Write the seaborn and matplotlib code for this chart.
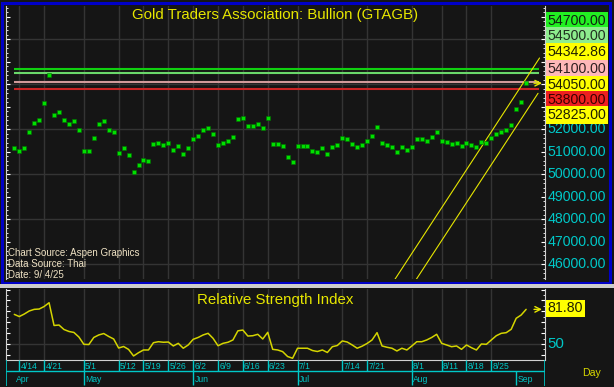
import numpy as np
import pandas as pd
import matplotlib
matplotlib.use("Agg")
import matplotlib.pyplot as plt
import seaborn as sns
from matplotlib.patches import Rectangle
from matplotlib.ticker import MultipleLocator

# ---------------- data ----------------
price = [51150, 51050, 51150, 51900, 52300, 52400, 53150, 54400, 52650, 52750,
         52400, 52250, 52350, 51950, 51050, 51050, 51600, 52250, 52350, 51950,
         51900, 50950, 51150, 50850, 50100, 50400, 50650, 50600, 51350, 51400,
         51300, 51400, 51100, 51250, 50900, 51150, 51550, 51700, 51950, 52050,
         51800, 51300, 51400, 51500, 51650, 52450, 52500, 52150, 52150, 52250,
         52050, 52500, 51350, 51350, 51250, 50750, 50550, 51250, 51250, 51250,
         51050, 51000, 51150, 50900, 51200, 51300, 51600, 51550, 51350, 51200,
         51300, 51500, 51700, 52100, 51400, 51300, 51200, 51000, 51200, 51100,
         51200, 51550, 51550, 51500, 51650, 51900, 51500, 51450, 51350, 51400,
         51250, 51400, 51300, 51200, 51450, 51400, 51600, 51800, 51900, 51950,
         52200, 52900, 53200, 54050]

rsi = [77.2, 75.2, 77.5, 80.3, 81.8, 82.1, 84.4, 87.9, 67.0, 67.4,
       63.3, 61.5, 60.6, 56.4, 49.7, 49.5, 56.0, 58.3, 59.6, 56.9,
       54.6, 46.3, 47.7, 45.0, 39.0, 42.0, 44.5, 44.5, 51.2, 52.1,
       51.6, 51.8, 48.2, 50.6, 46.1, 49.1, 54.3, 56.0, 58.3, 59.8,
       55.2, 48.4, 50.6, 51.6, 53.7, 62.1, 62.8, 57.3, 57.6, 58.9,
       54.6, 60.7, 45.1, 44.5, 43.0, 38.5, 36.9, 46.1, 46.1, 46.1,
       44.0, 43.1, 44.5, 42.2, 47.5, 48.6, 52.8, 51.8, 49.1, 46.1,
       48.0, 50.5, 53.7, 60.4, 48.2, 47.0, 46.1, 43.6, 46.1, 44.5,
       48.2, 52.1, 52.1, 53.7, 56.0, 58.9, 50.6, 49.1, 47.5, 48.2,
       45.1, 49.1, 46.6, 44.5, 50.0, 49.7, 53.7, 57.6, 59.8, 60.4,
       63.5, 73.6, 76.6, 81.8]

dates = pd.bdate_range("2025-04-11", "2025-09-03")

week_tick_dates = ["2025-04-14", "2025-04-21", "2025-05-01", "2025-05-12", "2025-05-19",
                   "2025-05-26", "2025-06-02", "2025-06-09", "2025-06-16", "2025-06-23",
                   "2025-07-01", "2025-07-14", "2025-07-21", "2025-08-01", "2025-08-11",
                   "2025-08-18", "2025-08-25"]
week_tick_labels = ["4/14", "4/21", "5/1", "5/12", "5/19", "5/26", "6/2", "6/9", "6/16",
                    "6/23", "7/1", "7/14", "7/21", "8/1", "8/11", "8/18", "8/25"]
month_tick_dates = ["2025-04-11", "2025-05-01", "2025-06-02", "2025-07-01", "2025-08-01", "2025-09-01"]
month_labels = ["Apr", "May", "Jun", "Jul", "Aug", "Sep"]

level_values = [54700, 54500, 54100, 53800]
level_colors = ["#10d010", "#6ad86a", "#d09a9a", "#c82424"]

box_labels = ["54700.00", "54500.00", "54342.86", "54100.00", "54050.00", "53800.00", "52825.00"]
box_colors = ["#22f022", "#8eec8e", "#ffff00", "#ffb8b8", "#ffff00", "#ee2020", "#ffff00"]
box_text_colors = ["#102010", "#203020", "#202000", "#302020", "#202000", "#3a0000", "#202000"]
axis_values = [52000, 51000, 50000, 49000, 48000, 47000, 46000]

channel_x = [76.5, 105.7]
channel_upper = [45300, 55170]
channel_x_low = [80.8, 105.4]
channel_lower = [45300, 53600]
level_span = [0, 105.6]

rsi_last = "81.80"
rsi_mid = 50

# ---------------- style ----------------
sns.set_style("dark")
plt.rcParams["font.family"] = ["Liberation Sans", "DejaVu Sans"]

BG = "#151515"
GRID = "#343434"
CYAN = "#00c8c8"
YEL = "#e6e600"

W, H = 614, 387
fig = plt.figure(figsize=(W / 100, H / 100), dpi=100, facecolor=BG)

def fx(px):
    return px / W

def fy(py):
    return 1 - py / H

idx = np.arange(len(dates))
week_idx = [dates.get_loc(pd.Timestamp(d)) for d in week_tick_dates]
month_idx = [dates.get_loc(pd.Timestamp(d)) for d in month_tick_dates]
XL = (-1.67, 106.8)

df = pd.DataFrame({"idx": idx, "price": price, "rsi": rsi})

# ---------------- main panel ----------------
ax = fig.add_axes([fx(6), fy(279), 539 / W, 273 / H])
ax.set_facecolor(BG)
ax.set_xlim(*XL)
ax.set_ylim(45347, 57480)
for v in range(46000, 58000, 2000):
    ax.axhline(v, color=GRID, lw=1.0, zorder=0)
for i in week_idx:
    ax.axvline(i, color=GRID, lw=1.0, zorder=0)

ax.hlines(level_values, level_span[0], level_span[1], colors=level_colors, lw=1.5, zorder=2)
ax.plot(channel_x, channel_upper, color=YEL, lw=0.8, zorder=3)
ax.plot(channel_x_low, channel_lower, color=YEL, lw=0.8, zorder=3)

sns.scatterplot(data=df, x="idx", y="price", ax=ax, marker="s", s=12,
                color="#00e000", edgecolor="#007000", linewidth=0.4, zorder=4)
ax.set_xlabel("")
ax.set_ylabel("")
ax.grid(False)
ax.yaxis.set_major_locator(MultipleLocator(1000))
ax.yaxis.set_minor_locator(MultipleLocator(200))
ax.tick_params(axis="y", which="both", direction="in", left=True, right=True,
               labelleft=False, labelright=False, colors="white")
ax.tick_params(axis="y", which="major", length=3, width=0.8)
ax.tick_params(axis="y", which="minor", length=1.6, width=0.6)
ax.tick_params(axis="x", bottom=False, labelbottom=False)
for s in ["top", "bottom"]:
    ax.spines[s].set_visible(False)
for s in ["left", "right"]:
    ax.spines[s].set_color("#d0d0d0")
    ax.spines[s].set_linewidth(0.8)

ax.text(0.5, 1 - 13.5 / 273, "Gold Traders Association: Bullion (GTAGB)", transform=ax.transAxes,
        ha="center", va="baseline", color=YEL, fontsize=10.8)

# right-side labels
box_rows = [21, 36, 52, 69, 85, 100, 115]
for lab, fc, tc, py in zip(box_labels, box_colors, box_text_colors, box_rows):
    fig.text(fx(547.5), fy(py), lab, ha="left", va="center", fontsize=10.2, color=tc,
             bbox=dict(boxstyle="square,pad=0.12", fc=fc, ec="none"))
for v in axis_values:
    ax.text(1.0 + 2.5 / 539, v, f"{v:.2f}", transform=ax.get_yaxis_transform(),
            ha="left", va="center", fontsize=10.2, color=CYAN, clip_on=False)

# source notes
notes = ["Chart Source: Aspen Graphics", "Data Source: Thai", "Date: 9/ 4/25"]
for t, py in zip(notes, [256, 267, 278]):
    fig.text(fx(7.5), fy(py), t, ha="left", va="baseline", fontsize=7, color="#efe2c4")

# ---------------- RSI panel ----------------
ax2 = fig.add_axes([fx(6), fy(360), 539 / W, 71 / H])
ax2.set_facecolor(BG)
ax2.set_xlim(*XL)
ax2.set_ylim(35.3, 100.5)
ax2.axhline(rsi_mid, color=GRID, lw=1.0, zorder=0)
for i in week_idx:
    ax2.axvline(i, color=GRID, lw=1.0, zorder=0)
sns.lineplot(data=df, x="idx", y="rsi", ax=ax2, color="#d4d400", lw=1.1, zorder=3)
ax2.set_xlabel("")
ax2.set_ylabel("")
ax2.grid(False)
ax2.yaxis.set_major_locator(MultipleLocator(10))
ax2.yaxis.set_minor_locator(MultipleLocator(5))
ax2.tick_params(axis="y", which="both", direction="in", left=True, right=True,
                labelleft=False, labelright=False, colors="white")
ax2.tick_params(axis="y", which="major", length=3, width=0.8)
ax2.tick_params(axis="y", which="minor", length=1.6, width=0.6)
ax2.tick_params(axis="x", bottom=False, labelbottom=False)
ax2.spines["top"].set_visible(False)
for s in ["left", "right", "bottom"]:
    ax2.spines[s].set_color("#d0d0d0")
    ax2.spines[s].set_linewidth(0.8)
ax2.text(0.5, 1 - 15 / 71, "Relative Strength Index", transform=ax2.transAxes,
         ha="center", va="baseline", color=YEL, fontsize=10.8)
fig.text(fx(547.5), fy(308.5), rsi_last, ha="left", va="center", fontsize=10.2, color="#202000",
         bbox=dict(boxstyle="square,pad=0.12", fc="#ffff00", ec="none"))
ax2.text(1.0 + 2.5 / 539, rsi_mid, str(rsi_mid), transform=ax2.get_yaxis_transform(),
         ha="left", va="center", fontsize=10.8, color=CYAN, clip_on=False)

# arrows for last values
for a, yv in [(ax, price[-1]), (ax2, rsi[-1])]:
    a.annotate("", xy=(1 - 3 / 539, yv), xycoords=a.get_yaxis_transform(),
               xytext=(1 - 11 / 539, yv), textcoords=a.get_yaxis_transform(),
               arrowprops=dict(arrowstyle="->", color=YEL, lw=1.0, shrinkA=0, shrinkB=0))

# ---------------- date strip ----------------
ax3 = fig.add_axes([fx(6), fy(386), 539 / W, 26 / H])
ax3.set_facecolor(BG)
ax3.set_xlim(*XL)
ax3.set_ylim(0, 1)
ax3.axis("off")
row = 1 - 11 / 26
ax3.axhline(row, color=CYAN, lw=1.0)
ax3.axvline(XL[0], color=CYAN, lw=1.2)
ax3.axvline(XL[1], color=CYAN, lw=1.2)
ax3.vlines(week_idx, row, 1, colors=CYAN, lw=1.0)
ax3.vlines(month_idx[1:], 0.05, row, colors=CYAN, lw=1.0)
for i, lab in zip(week_idx, week_tick_labels):
    ax3.text(i + 0.25, (1 + row) / 2 - 0.03, lab, ha="left", va="center", fontsize=6.2, color=CYAN)
for i, lab in zip(month_idx, month_labels):
    ax3.text(i + 0.25, row / 2 - 0.02, lab, ha="left", va="center", fontsize=6.2, color=CYAN)
fig.text(fx(591.5), fy(373), "Day", ha="center", va="center", fontsize=7.6, color="#d8d800")

# ---------------- frame ----------------
fig.add_artist(Rectangle((fx(2.3), fy(282.5)), fx(610) - fx(2.3), fy(2.5) - fy(282.5),
                         transform=fig.transFigure, fill=False, ec="#0000c8", lw=2.2))
fig.add_artist(Rectangle((0, fy(287.5)), 1, fy(284.2) - fy(287.5), transform=fig.transFigure,
                         fc="#cccccc", ec="none"))

fig.savefig("out.png", dpi=100, facecolor=BG)
